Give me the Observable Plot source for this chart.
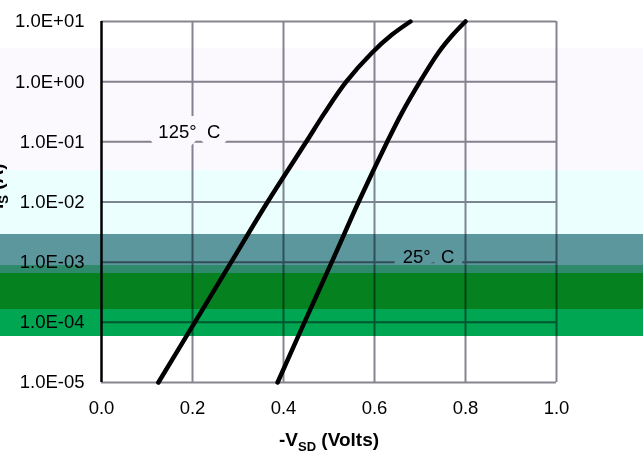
<!DOCTYPE html>
<html><head><meta charset="utf-8">
<script src="https://cdn.jsdelivr.net/npm/d3@7"></script>
<script src="https://cdn.jsdelivr.net/npm/@observablehq/plot@0.6"></script>
<style>
html,body{margin:0;padding:0;background:#fff;overflow:hidden}
#wrap{position:relative;width:643px;height:455px;overflow:hidden}
.band{position:absolute;left:0;width:643px;mix-blend-mode:multiply;pointer-events:none}
#b1{top:48px;height:122px;background:#fbf9fe}
#b2{top:170px;height:64px;background:#ebffff}
#b3{top:234px;height:31px;background:#5b979d}
#b4{top:265px;height:8px;background:#2f8a6c}
#b5{top:273px;height:36px;background:#05821f}
#b6{top:309px;height:27px;background:#00a651}
</style></head><body><div id="wrap"></div>
<script>
// Source-drain current (A) at which each voltage was read
const currents = [1e-5, 1e-4, 1e-3, 1e-2, 1e-1, 3e-1, 1, 3, 6, 10];
// -V_SD (Volts) at 125 °C and at 25 °C
const vsd125 = [0.125, 0.205, 0.285, 0.365, 0.45, 0.49, 0.538, 0.594, 0.638, 0.679];
const vsd25  = [0.387, 0.446, 0.506, 0.565, 0.628, 0.66, 0.70, 0.74, 0.772, 0.80];
const seriesNames = ["125", "25"];
const yTicks = [1e-5, 1e-4, 1e-3, 1e-2, 1e-1, 1, 10];
const yTickLabels = ["1.0E-05", "1.0E-04", "1.0E-03", "1.0E-02", "1.0E-01", "1.0E+00", "1.0E+01"];
const xTicks = [0, 0.2, 0.4, 0.6, 0.8, 1.0];
const xTickLabels = ["0.0", "0.2", "0.4", "0.6", "0.8", "1.0"];
const curveLabelText = ["125°\u00a0\u00a0C", "25°\u00a0\u00a0C"];
const curveLabelV = [0.193, 0.71];
const curveLabelI = [1e-1, 1e-3];

const data = currents.flatMap((c, k) => [
  {t: seriesNames[0], v: vsd125[k], i: c},
  {t: seriesNames[1], v: vsd25[k], i: c}
]);
const labels = curveLabelText.map((s, k) => ({text: s, v: curveLabelV[k], i: curveLabelI[k]}));
const grid = "#86858f";

const plot = Plot.plot({
  width: 643, height: 455,
  marginLeft: 101, marginRight: 87, marginTop: 21, marginBottom: 73,
  style: {fontFamily: "'Liberation Sans', Arial, sans-serif", fontSize: "18.5px", color: "#000", background: "transparent", overflow: "visible"},
  x: {domain: [0, 1]},
  y: {type: "log", domain: [1e-5, 10]},
  marks: [
    Plot.ruleY(yTicks, {stroke: grid, strokeWidth: 2}),
    Plot.ruleX(xTicks.slice(1), {stroke: grid, strokeWidth: 2}),
    Plot.ruleX([0], {stroke: "#000", strokeWidth: 2.5}),
    Plot.axisY({ticks: yTicks, tickFormat: d => yTickLabels[yTicks.indexOf(d)], tickSize: 0, tickPadding: 17, label: null, fontSize: 18.5}),
    Plot.axisX({ticks: xTicks, tickFormat: d => xTickLabels[xTicks.indexOf(d)], tickSize: 0, tickPadding: 18, label: null, fontSize: 18.5}),
    Plot.line(data, {x: "v", y: "i", z: "t", stroke: "#000", strokeWidth: 4.5, curve: "catmull-rom"}),
    Plot.text(labels.slice(0, 1), {x: "v", y: "i", text: "text", dy: -10, fill: "#000", stroke: "white", strokeWidth: 18, fontSize: 18.5}),
    Plot.text(labels.slice(1), {x: "v", y: "i", text: "text", dy: -5, dx: 4, fill: "#000", stroke: "white", strokeWidth: 18, fontSize: 18.5})
  ]
});

const svg = d3.select(plot);
const sx = plot.scale("x");
const sy = plot.scale("y");
// x-axis title with subscript
const xl = svg.append("text")
  .attr("x", sx.apply(0.4) - 4).attr("y", sy.apply(1e-5) + 64)
  .attr("text-anchor", "start")
  .attr("font-weight", "bold").attr("font-size", 19).attr("fill", "#000");
xl.append("tspan").text("-V");
xl.append("tspan").attr("font-size", 13).attr("dy", 5).text("SD");
xl.append("tspan").attr("dy", -5).text("\u00a0(Volts)");
// y-axis title (mostly outside the frame on the left)
const yl = svg.append("text")
  .attr("transform", `translate(3,${sy.apply(1e-1) + 22}) rotate(-90)`)
  .attr("text-anchor", "end").attr("font-weight", "bold").attr("font-size", 19).attr("fill", "#000");
yl.append("tspan").text("-I");
yl.append("tspan").attr("font-size", 13).attr("dy", 5).text("S");
yl.append("tspan").attr("dy", -5).text("\u00a0(A)");

const wrap = document.getElementById("wrap");
wrap.appendChild(plot);
for (const id of ["b1", "b2", "b3", "b4", "b5", "b6"]) {
  const d = document.createElement("div");
  d.className = "band"; d.id = id;
  wrap.appendChild(d);
}
</script>
</body></html>
